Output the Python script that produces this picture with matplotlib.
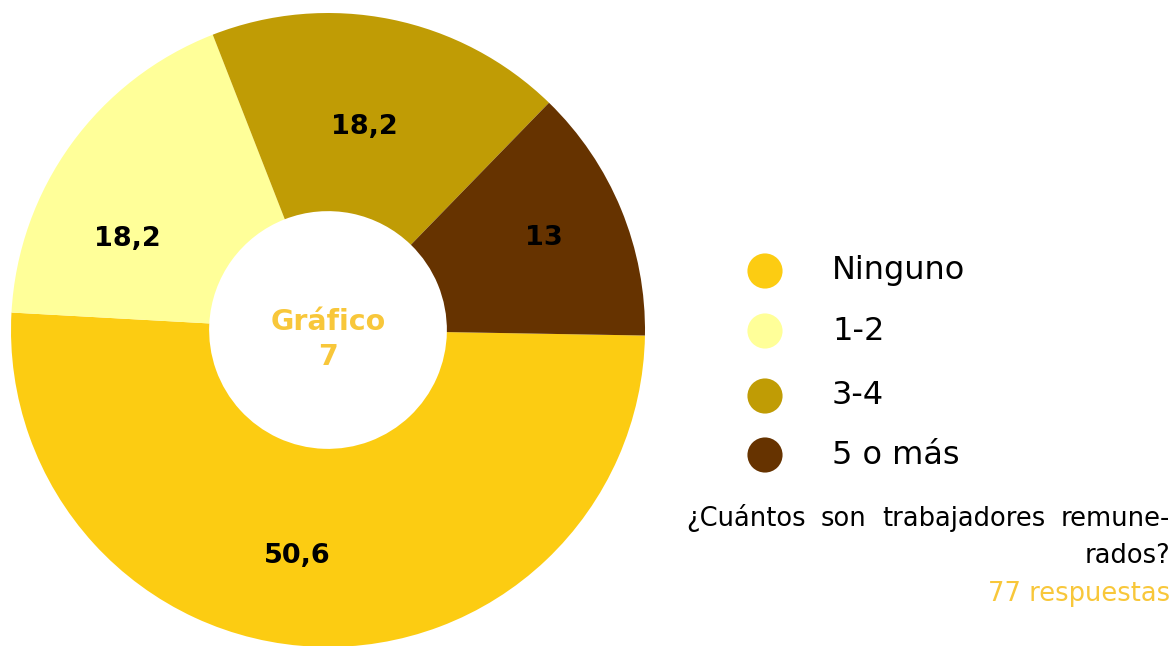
import matplotlib
matplotlib.use("Agg")
import matplotlib.pyplot as plt
import numpy as np

categories = ["Ninguno", "1-2", "3-4", "5 o más"]
values = [50.6, 18.2, 18.2, 13]
value_labels = ["50,6", "18,2", "18,2", "13"]
colors = ["#FCCC12", "#FFFF99", "#C09C05", "#663300"]
center_title = "Gráfico\n7"
question_lines = ["¿Cuántos son trabajadores remune-", "rados?"]
responses = "77 respuestas"
gold = "#F8C73A"

# label placement tweaks (style): angle shift from wedge middle, radius fraction
label_shift = [-5.7, 11.6, 1.2, 0.6]
label_radius = [0.72, 0.694, 0.652, 0.741]

W, H = 1174, 646
fig = plt.figure(figsize=(W / 100, H / 100), dpi=100)
fig.patch.set_facecolor("white")
font = "DejaVu Sans"

cx, cy, R = 328, 330, 317
ax = fig.add_axes([(cx - R) / W, (H - cy - R) / H, 2 * R / W, 2 * R / H])
wedges, _ = ax.pie(values, colors=colors, startangle=-1, counterclock=False,
                   radius=1, wedgeprops=dict(width=0.625, edgecolor="none"))
ax.set_xlim(-1, 1)
ax.set_ylim(-1, 1)
ax.set_aspect("equal")
ax.axis("off")

for w, lab, sh, r in zip(wedges, value_labels, label_shift, label_radius):
    ang = np.deg2rad((w.theta1 + w.theta2) / 2 + sh)
    ax.text(r * np.cos(ang), r * np.sin(ang), lab, ha="center", va="center",
            fontsize=19.5, fontweight="bold", family=font, color="black")

ax.text(0, -0.03, center_title, ha="center", va="center", fontsize=20.5,
        fontweight="bold", family=font, color=gold, linespacing=1.3)

# overlay in pixel coords for legend and notes
ov = fig.add_axes([0, 0, 1, 1])
ov.set_xlim(0, W)
ov.set_ylim(H, 0)
ov.axis("off")
leg_y = [271, 331, 396, 455]
for yy, c, lab in zip(leg_y, colors, categories):
    ov.scatter([765], [yy], s=640, color=c, edgecolors="none")
    ov.text(832, yy, lab, ha="left", va="center", fontsize=23, family=font, color="black")

# justified first line between x0 and x1
x0, x1 = 686, 1170
renderer = fig.canvas.get_renderer()
words = question_lines[0].split(" ")
arts = [ov.text(0, 526, wd, ha="left", va="baseline", fontsize=18.5, family=font, color="black")
        for wd in words]
widths = [a.get_window_extent(renderer).width for a in arts]
gap = (x1 - x0 - sum(widths)) / (len(words) - 1)
xpos = x0
for a, wdt in zip(arts, widths):
    a.set_x(xpos)
    xpos += wdt + gap

ov.text(1170, 563, question_lines[1], ha="right", va="baseline", fontsize=18.5, family=font, color="black")
ov.text(1170, 601, responses, ha="right", va="baseline", fontsize=18.5, family=font, color=gold)

fig.savefig("out.png", dpi=100, facecolor="white")
